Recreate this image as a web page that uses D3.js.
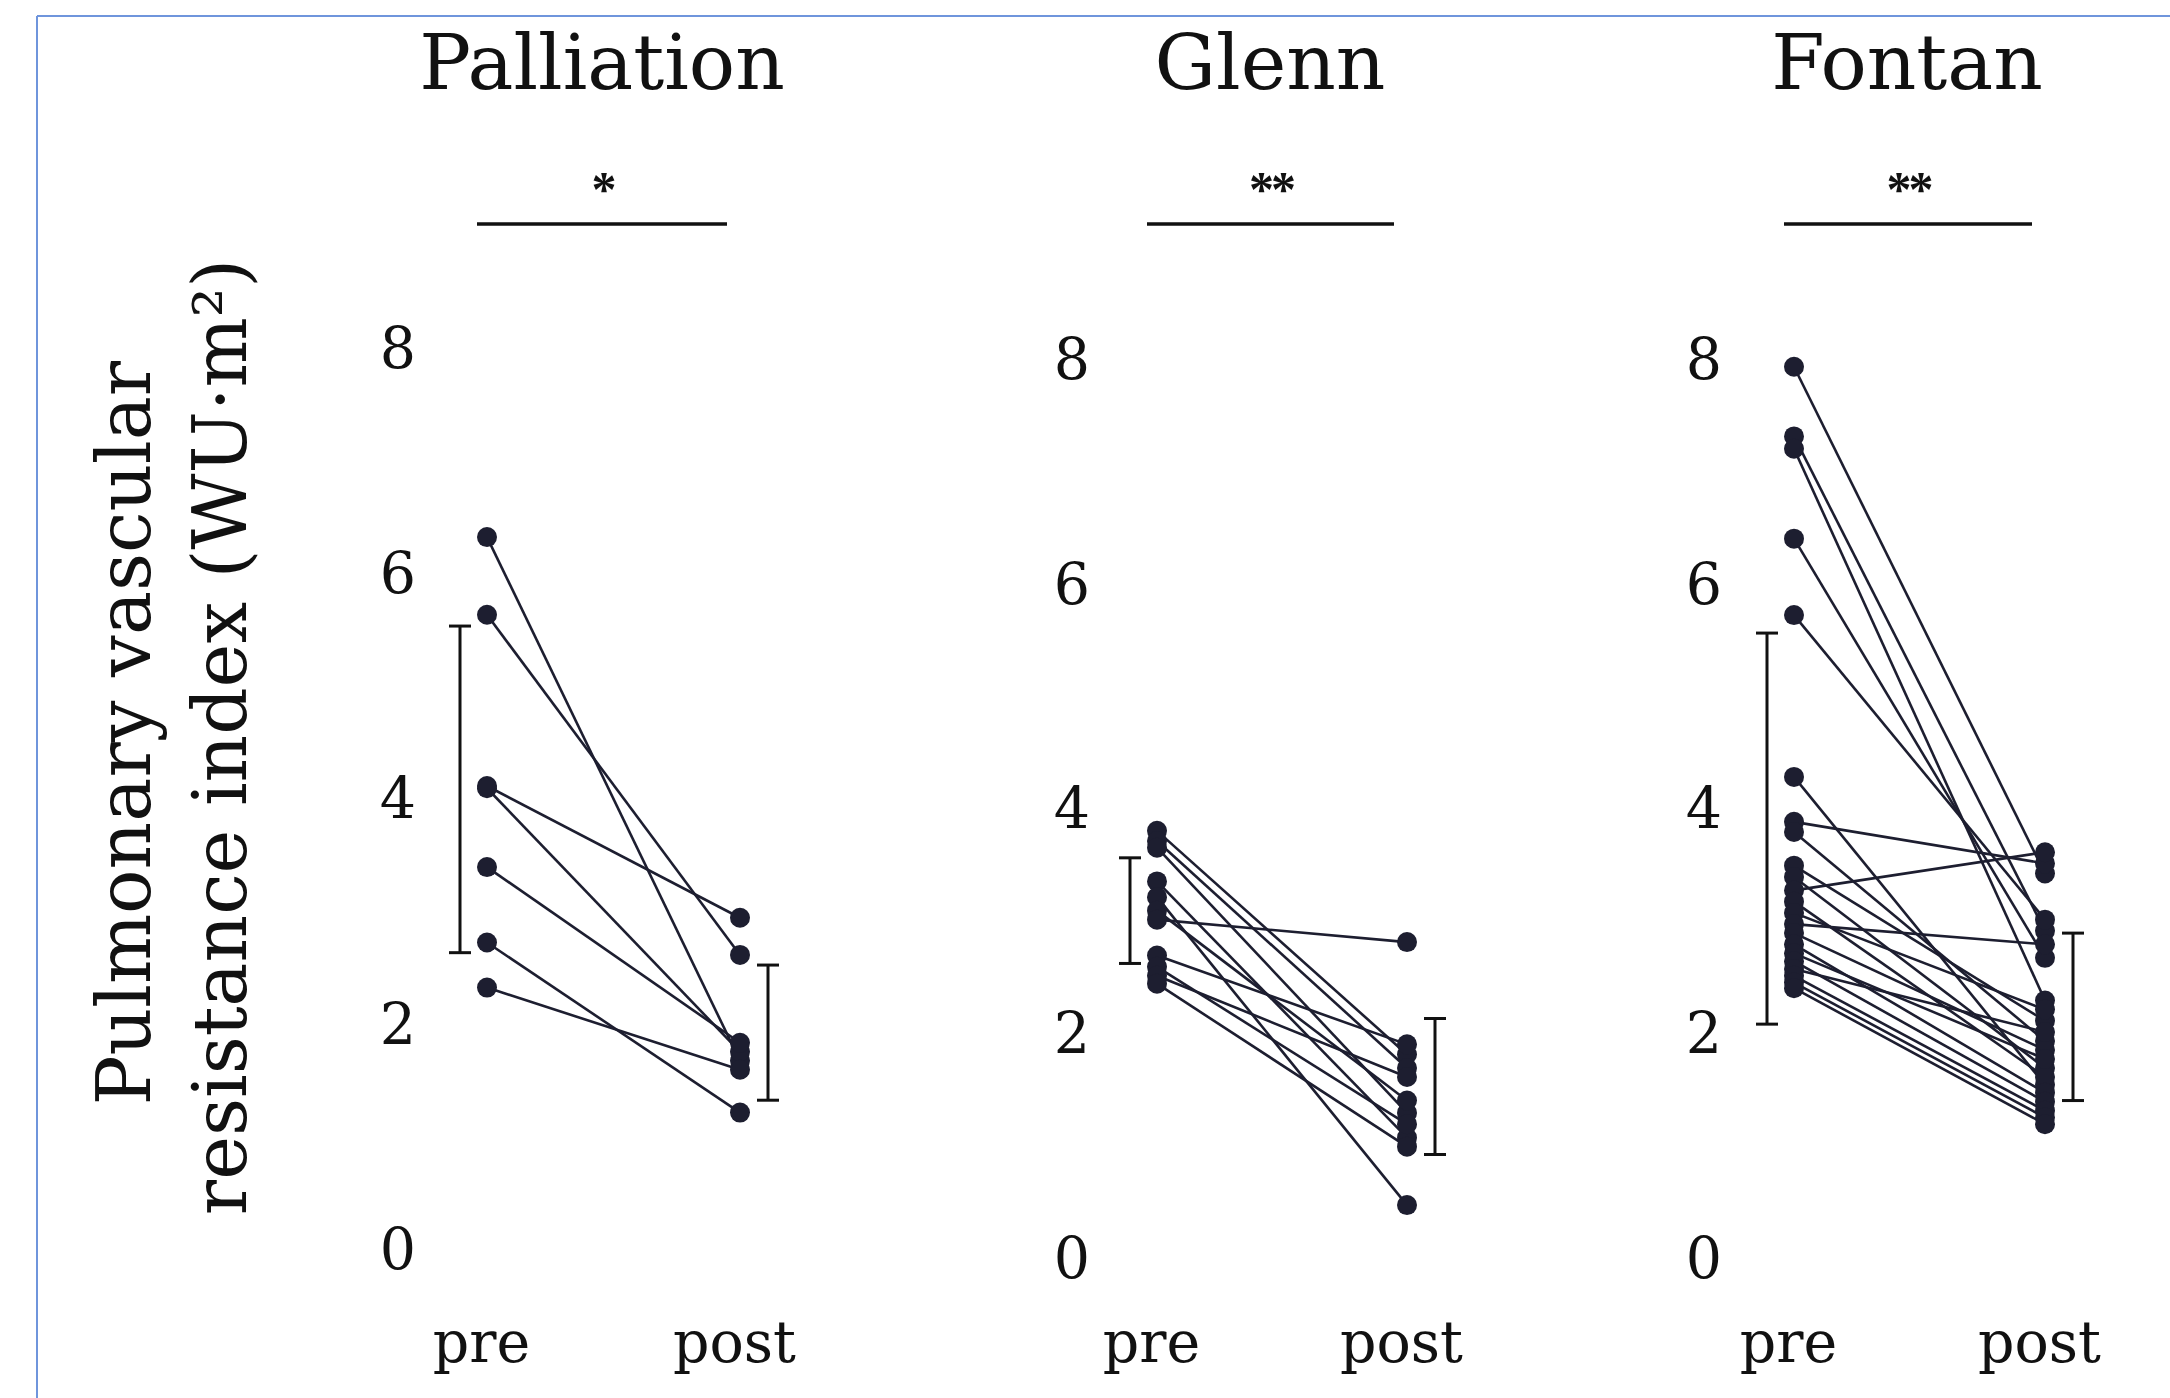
<!DOCTYPE html>
<html>
<head>
<meta charset="utf-8">
<script src="https://cdn.jsdelivr.net/npm/d3@7"></script>
<style>
  html, body { margin: 0; padding: 0; background: #fff; }
  svg { display: block; }
  text { font-family: "DejaVu Serif", "Liberation Serif", serif; fill: #111; }
</style>
</head>
<body>
<svg id="chart" width="2170" height="1398"></svg>
<script>
// ---------- data ----------
const groups = ["Palliation", "Glenn", "Fontan"];
const significance = ["*", "**", "**"];
const timepoints = ["pre", "post"];
const yTicks = [0, 2, 4, 6, 8];
const yLabelLines = ["Pulmonary vascular", "resistance index (WU\u00B7m\u00B2)"];

const palliationPre  = [6.33, 5.64, 4.12, 4.10, 3.40, 2.73, 2.33];
const palliationPost = [1.68, 2.62, 2.95, 1.76, 1.84, 1.22, 1.60];

const glennPre  = [3.81, 3.72, 3.66, 3.36, 3.22, 3.10, 3.02, 2.70, 2.60, 2.52, 2.45];
const glennPost = [1.82, 1.70, 1.30, 1.08, 0.48, 1.41, 2.82, 1.91, 1.20, 1.62, 1.00];

const fontanPre  = [7.94, 7.32, 7.21, 6.41, 5.73, 4.29, 3.89, 3.80, 3.50, 3.40, 3.28,
                    3.18, 3.08, 2.98, 2.90, 2.80, 2.72, 2.65, 2.58, 2.52, 2.46, 2.41];
const fontanPost = [3.43, 2.92, 2.30, 2.68, 3.02, 1.55, 3.52, 1.94, 2.12, 1.70, 3.62,
                    1.62, 2.22, 2.80, 1.86, 1.48, 1.78, 1.40, 2.02, 1.32, 1.26, 1.20];

// mean ± SD bars
const preSdLow   = [2.64, 2.63, 2.09];
const preSdHigh  = [5.54, 3.57, 5.57];
const postSdLow  = [1.33, 0.93, 1.41];
const postSdHigh = [2.53, 2.14, 2.90];

const preByGroup  = [palliationPre, glennPre, fontanPre];
const postByGroup = [palliationPost, glennPost, fontanPost];

// ---------- layout ----------
const layout = [
  { preX: 487,  postX: 740,  axisX: 416,  y0: 1250, y8: 349, titleX: 602 },
  { preX: 1157, postX: 1407, axisX: 1090, y0: 1259, y8: 360, titleX: 1270 },
  { preX: 1794, postX: 2045, axisX: 1722, y0: 1259, y8: 360, titleX: 1907 }
];
const ink = "#1d1e30";

const svg = d3.select("#chart");

// frame lines (light blue)
svg.append("line").attr("x1", 37).attr("y1", 16).attr("x2", 2170).attr("y2", 16)
  .attr("stroke", "#6f95dc").attr("stroke-width", 2);
svg.append("line").attr("x1", 37).attr("y1", 16).attr("x2", 37).attr("y2", 1398)
  .attr("stroke", "#6f95dc").attr("stroke-width", 2);

// y-axis title
svg.append("text")
  .attr("transform", "translate(150,733) rotate(-90)")
  .attr("text-anchor", "middle")
  .style("font-size", "74px")
  .text(yLabelLines[0]);
svg.append("text")
  .attr("transform", "translate(246,737) rotate(-90)")
  .attr("text-anchor", "middle")
  .style("font-size", "74px")
  .text(yLabelLines[1]);

groups.forEach((g, i) => {
  const L = layout[i];
  const pre = preByGroup[i], post = postByGroup[i];
  const y = d3.scaleLinear().domain([0, 8]).range([L.y0, L.y8]);
  const x = d3.scalePoint().domain(timepoints).range([L.preX, L.postX]);
  const panel = svg.append("g");

  // title
  panel.append("text")
    .attr("x", L.titleX).attr("y", 89)
    .attr("text-anchor", "middle")
    .style("font-size", "77px")
    .text(g);

  // significance bar
  panel.append("line")
    .attr("x1", x("pre") - 10).attr("x2", x("post") - 13)
    .attr("y1", 224).attr("y2", 224)
    .attr("stroke", "#111").attr("stroke-width", 3.5);
  panel.append("text")
    .attr("x", (x("pre") + x("post")) / 2 - 11).attr("y", 206)
    .attr("text-anchor", "middle")
    .style("font-size", "50px")
    .style("font-weight", "bold")
    .style("letter-spacing", "-3px")
    .style("font-family", "'Liberation Serif', serif")
    .text(significance[i]);

  // y axis labels
  const yAxis = d3.axisLeft(y).tickValues(yTicks).tickSize(0).tickPadding(0).tickFormat(d3.format("d"));
  const ya = panel.append("g").attr("transform", `translate(${L.axisX},0)`).call(yAxis);
  ya.select(".domain").remove();
  ya.selectAll("text").style("font-size", "57px").attr("fill", "#111")
    .style("font-family", "'DejaVu Serif', serif");

  // x axis labels
  const xAxis = d3.axisBottom(x).tickSize(0).tickPadding(0);
  const xa = panel.append("g").attr("transform", "translate(-6,1322)").call(xAxis);
  xa.select(".domain").remove();
  xa.selectAll("text").style("font-size", "57px").attr("fill", "#111")
    .style("font-family", "'DejaVu Serif', serif");

  // paired lines
  const pairs = pre.map((v, k) => ({ pre: v, post: post[k] }));
  panel.append("g").selectAll("line").data(pairs).join("line")
    .attr("x1", x("pre")).attr("y1", d => y(d.pre))
    .attr("x2", x("post")).attr("y2", d => y(d.post))
    .attr("stroke", ink).attr("stroke-width", 2.6);

  // dots
  panel.append("g").selectAll("circle").data(pre).join("circle")
    .attr("cx", x("pre")).attr("cy", d => y(d)).attr("r", 10).attr("fill", ink);
  panel.append("g").selectAll("circle").data(post).join("circle")
    .attr("cx", x("post")).attr("cy", d => y(d)).attr("r", 10).attr("fill", ink);

  // SD bars
  const bars = [
    { cx: x("pre") - 27, lo: preSdLow[i], hi: preSdHigh[i] },
    { cx: x("post") + 28, lo: postSdLow[i], hi: postSdHigh[i] }
  ];
  const bg = panel.append("g").attr("stroke", "#111").attr("stroke-width", 3);
  bars.forEach(b => {
    bg.append("line").attr("x1", b.cx).attr("x2", b.cx).attr("y1", y(b.lo)).attr("y2", y(b.hi));
    bg.append("line").attr("x1", b.cx - 11).attr("x2", b.cx + 11).attr("y1", y(b.lo)).attr("y2", y(b.lo));
    bg.append("line").attr("x1", b.cx - 11).attr("x2", b.cx + 11).attr("y1", y(b.hi)).attr("y2", y(b.hi));
  });
});
</script>
</body>
</html>
